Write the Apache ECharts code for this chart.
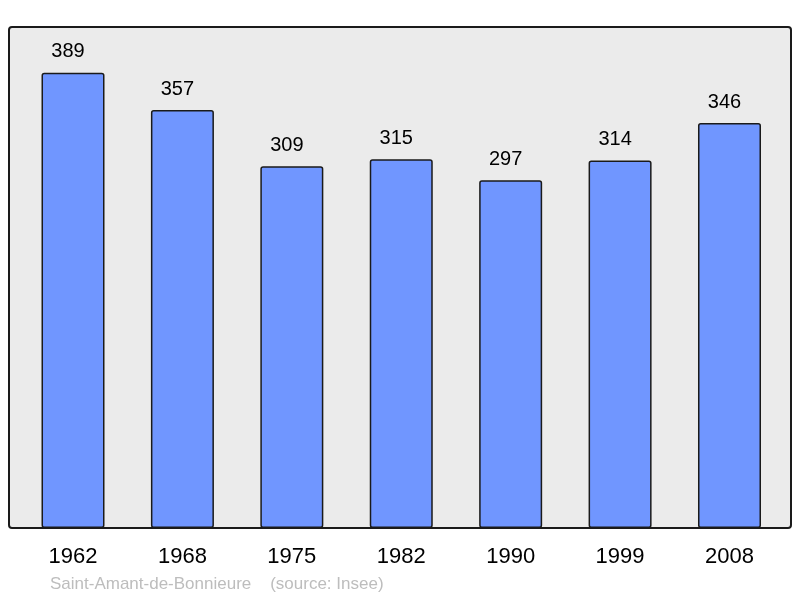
<!DOCTYPE html>
<html>
<head>
<meta charset="utf-8">
<script src="https://cdn.jsdelivr.net/npm/echarts@6/dist/echarts.min.js"></script>
<style>
  html, body { margin: 0; padding: 0; background: #fff; }
  #main { width: 800px; height: 598px; }
</style>
</head>
<body>
<div id="main"></div>
<script>
var years = ['1962', '1968', '1975', '1982', '1990', '1999', '2008'];
var population = [389, 357, 309, 315, 297, 314, 346];
var footer = 'Saint-Amant-de-Bonnieure    (source: Insee)';

var myChart = echarts.init(document.getElementById('main'));

var option = {
    animation: false,
    graphic: [{
        type: 'rect',
        z: -10,
        shape: { x: 9, y: 27, width: 782, height: 501, r: 3 },
        style: { fill: '#ebebeb', stroke: '#1a1a1a', lineWidth: 2 }
    }, {
        type: 'text',
        left: 50,
        top: 576,
        style: {
            text: footer,
            fill: '#bdbdbd',
            font: '17px "Liberation Sans", Arial, sans-serif'
        }
    }],
    grid: { left: 18.3, right: 15.8, top: 27, bottom: 70 },
    xAxis: {
        type: 'category',
        data: years,
        axisLine: { show: false },
        axisTick: { show: false },
        axisLabel: {
            margin: 18,
            fontSize: 22,
            color: '#000',
            fontFamily: '"Liberation Sans", Arial, sans-serif'
        }
    },
    yAxis: {
        type: 'value',
        min: 0,
        max: 428,
        show: false,
        splitLine: { show: false }
    },
    series: [{
        type: 'bar',
        data: population,
        barWidth: 63,
        itemStyle: {
            color: '#7096ff',
            borderColor: '#1a1a1a',
            borderWidth: 1.5,
            borderRadius: 2
        },
        label: {
            show: true,
            position: 'top',
            distance: 11,
            offset: [-5, 0],
            fontSize: 20,
            color: '#000',
            fontFamily: '"Liberation Sans", Arial, sans-serif'
        }
    }]
};

myChart.setOption(option);
</script>
</body>
</html>
